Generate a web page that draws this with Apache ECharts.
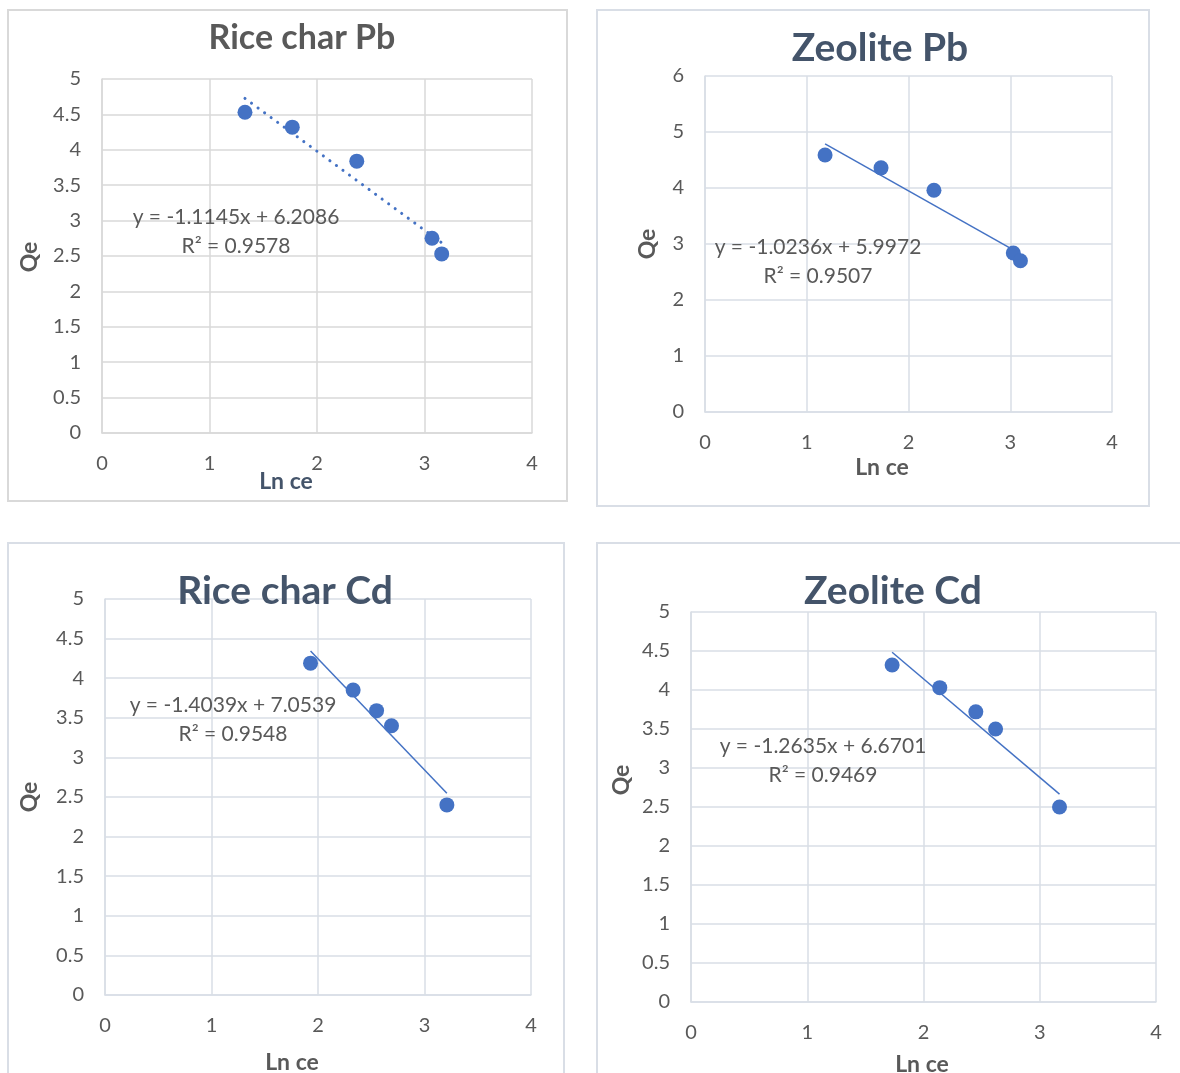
<!DOCTYPE html>
<html>
<head>
<meta charset="utf-8">
<script src="https://cdn.jsdelivr.net/npm/echarts@6/dist/echarts.min.js"></script>
<style>
html,body{margin:0;padding:0;background:#fff;}
#chart{width:1180px;height:1073px;}
</style>
</head>
<body>
<div id="chart"></div>
<script>
// ---------- data ----------
const titles = ["Rice char Pb", "Zeolite Pb", "Rice char Cd", "Zeolite Cd"];
const riceCharPbX = [1.33, 1.77, 2.37, 3.07, 3.16];
const riceCharPbY = [4.53, 4.32, 3.84, 2.75, 2.53];
const zeolitePbX = [1.18, 1.73, 2.25, 3.03, 3.10];
const zeolitePbY = [4.59, 4.36, 3.96, 2.84, 2.70];
const riceCharCdX = [1.93, 2.33, 2.55, 2.69, 3.21];
const riceCharCdY = [4.19, 3.85, 3.59, 3.40, 2.40];
const zeoliteCdX = [1.73, 2.14, 2.45, 2.62, 3.17];
const zeoliteCdY = [4.32, 4.03, 3.72, 3.50, 2.50];
const slopes = [-1.1145, -1.0236, -1.4039, -1.2635];
const intercepts = [6.2086, 5.9972, 7.0539, 6.6701];
const equations = ["y = -1.1145x + 6.2086", "y = -1.0236x + 5.9972", "y = -1.4039x + 7.0539", "y = -1.2635x + 6.6701"];
const r2Labels = ["R² = 0.9578", "R² = 0.9507", "R² = 0.9548", "R² = 0.9469"];
const yMax = [5, 6, 5, 5];
const yInterval = [0.5, 1, 0.5, 0.5];
const xMin = 0, xMax = 4, xInterval = 1;
const xAxisName = "Ln ce";
const yAxisName = "Qe";

// ---------- layout ----------
const xs = [riceCharPbX, zeolitePbX, riceCharCdX, zeoliteCdX];
const ys = [riceCharPbY, zeolitePbY, riceCharCdY, zeoliteCdY];
const grids = [
  {left: 102, top: 79, width: 430, height: 354},
  {left: 705, top: 76, width: 407, height: 336},
  {left: 105, top: 599, width: 426, height: 396},
  {left: 691, top: 612, width: 465, height: 390}
];
const gridColors = ["#d9d9d9", "#d9dee6", "#d9dee6", "#d9dee6"];
const titleColors = ["#595959", "#44546a", "#44546a", "#44546a"];
const titleSizes = [34, 39, 39, 39];
const titlePos = [[302, 38], [880, 48], [285, 591], [893, 591]];
const eqPos = [[236, 217], [818, 247], [233, 705], [823, 746]];
const lnPos = [[286, 482], [882, 468], [292, 1063], [922, 1065]];
const qePos = [[30, 257], [648, 244], [30, 797], [622, 780]];
const lnColors = ["#44546a", "#595959", "#595959", "#595959"];
const frames = [
  {x: 8, y: 10, w: 559, h: 491, c: "#d9d9d9"},
  {x: 597, y: 10, w: 552, h: 496, c: "#d9dee6"},
  {x: 8, y: 543, w: 556, h: 560, c: "#d9dee6"},
  {x: 597, y: 543, w: 620, h: 560, c: "#d9dee6"}
];
const FONT = "Lato, 'Open Sans', sans-serif";
const BLUE = "#4472c4";

const xAxes = [], yAxes = [], series = [], graphics = [];
frames.forEach(f => graphics.push({
  type: 'rect', shape: {x: f.x, y: f.y, width: f.w, height: f.h},
  style: {fill: 'none', stroke: f.c, lineWidth: 2}, z: -10
}));

for (let i = 0; i < 4; i++) {
  xAxes.push({
    type: 'value', gridIndex: i, min: xMin, max: xMax, interval: xInterval,
    axisLine: {show: true, onZero: false, lineStyle: {color: gridColors[i], width: 1.5}},
    axisTick: {show: false},
    splitLine: {show: true, lineStyle: {color: gridColors[i], width: 1.5}},
    axisLabel: {color: '#595959', fontSize: 20, fontFamily: FONT, margin: 21}
  });
  yAxes.push({
    type: 'value', gridIndex: i, min: 0, max: yMax[i], interval: yInterval[i],
    axisLine: {show: true, lineStyle: {color: gridColors[i], width: 1.5}},
    axisTick: {show: false},
    splitLine: {show: true, lineStyle: {color: gridColors[i], width: 1.5}},
    axisLabel: {color: '#595959', fontSize: 20, fontFamily: FONT, margin: 21}
  });
  const pts = xs[i].map((x, k) => [x, ys[i][k]]);
  const x0 = Math.min(...xs[i]), x1 = Math.max(...xs[i]);
  series.push({
    type: 'line', xAxisIndex: i, yAxisIndex: i, symbol: 'none', silent: true,
    data: [[x0, slopes[i] * x0 + intercepts[i]], [x1, slopes[i] * x1 + intercepts[i]]],
    lineStyle: i === 0 ? {color: BLUE, width: 3, type: [0.1, 8], cap: 'round'} : {color: BLUE, width: 1.5},
    z: 3
  });
  series.push({
    type: 'scatter', xAxisIndex: i, yAxisIndex: i, data: pts,
    symbolSize: 15, itemStyle: {color: BLUE, opacity: 1}, z: 4
  });
  graphics.push({type: 'text', x: titlePos[i][0], y: titlePos[i][1], z: 20,
    style: {text: titles[i], fill: titleColors[i], font: `bold ${titleSizes[i]}px ${FONT}`, textAlign: 'center', textVerticalAlign: 'middle'}});
  graphics.push({type: 'text', x: eqPos[i][0], y: eqPos[i][1], z: 20,
    style: {text: equations[i], fill: '#595959', font: `21px ${FONT}`, textAlign: 'center', textVerticalAlign: 'middle'}});
  graphics.push({type: 'text', x: eqPos[i][0], y: eqPos[i][1] + 29, z: 20,
    style: {text: r2Labels[i], fill: '#595959', font: `21px ${FONT}`, textAlign: 'center', textVerticalAlign: 'middle'}});
  graphics.push({type: 'text', x: lnPos[i][0], y: lnPos[i][1], z: 20,
    style: {text: xAxisName, fill: lnColors[i], font: `bold 23px ${FONT}`, textAlign: 'center', textVerticalAlign: 'middle'}});
  graphics.push({type: 'text', x: qePos[i][0], y: qePos[i][1], rotation: Math.PI / 2, z: 20,
    style: {text: yAxisName, fill: '#595959', font: `bold 23px ${FONT}`, textAlign: 'center', textVerticalAlign: 'middle'}});
}

const chart = echarts.init(document.getElementById('chart'), null, {renderer: 'canvas'});
chart.setOption({
  animation: false,
  backgroundColor: '#ffffff',
  grid: grids.map(g => Object.assign({containLabel: false}, g)),
  xAxis: xAxes,
  yAxis: yAxes,
  series: series,
  graphic: graphics
});
</script>
</body>
</html>
